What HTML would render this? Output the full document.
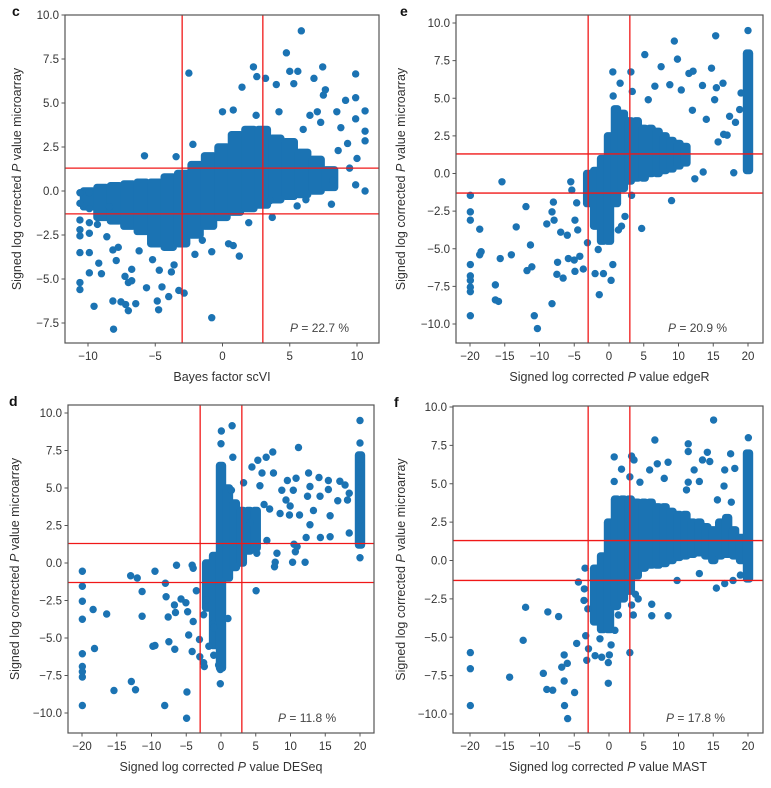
<!DOCTYPE html>
<html><head><meta charset="utf-8"><style>
html,body{margin:0;padding:0;background:#fff}
svg{display:block;font-family:"Liberation Sans",Arial,sans-serif}
</style></head><body>
<svg id="fig" width="771" height="788" viewBox="0 0 771 788" xmlns="http://www.w3.org/2000/svg"></svg>
<script>
// ---------- Panel c data (Bayes factor scVI vs microarray) ----------
const cPointsX=[5.86,4.75,-2.5,2.3,7.45,9.9,2.55,3.2,5,5.6,6.8,1.45,4,5.3,7.65,7.5,9.9,9.15,10.6,8.5,7.05,0,0.8,-5.8,-3.45,-2.2,9.9,10.6,10.6,10.6,9.9,9.45,10,5.55,8.1,3.7,-10.6,-10.6,-10.6,-10.6,-10.6,-10.6,-10.6,-10.6,-9.9,-9.9,-9.9,-9.9,-9.9,-9.9,-9.55,-9.2,-9,-8.15,-8.1,-8.15,-7.9,-7.75,-7.55,-7.2,-7,-7.25,-7,-6.75,-6.75,-6.45,-5.65,-4.85,-4.75,-4.5,-4.7,-4,-3.8,-3.25,-2.85,-2.05,-0.8,-0.8,0.45,0.8,1.25,1.95,3.55,8.8,9.3,8.2,6.5,7.3,6.2,-9.3,-8.6,-8.4,-6.2,-5.2,-3.6,-1.5,2.5,4.2,6,8.6];
const cPointsY=[9.1,7.85,6.7,7.05,7.05,6.65,6.5,6.4,6.8,6.8,6.4,5.9,6.05,6.1,5.75,5.45,5.3,5.15,4.55,4.5,4.5,4.5,4.6,2.0,1.95,2.65,4.1,2.85,3.4,0,0.35,1.3,1.85,-0.85,-0.75,-1.5,-0.1,-0.7,-1.65,-2.2,-2.55,-3.5,-5.2,-5.6,-0.1,-1,-1.8,-2.4,-3.5,-4.65,-6.55,-4.1,-4.7,-6.25,-7.85,-3.35,-3.95,-3.2,-6.3,-6.45,-6.8,-4.85,-5.2,-5.1,-4.45,-6.4,-5.5,-6.25,-6.75,-5.45,-4.5,-6,-4.6,-5.65,-5.8,-3.6,-7.2,-3.45,-3,-3.1,-3.7,-1.8,-0.55,3.6,2.7,0.6,4.3,3.9,-0.5,-1.9,-2.6,-0.9,-3.4,-3.9,-4.2,-2.8,4.3,4.5,3.5,2.3];
const cBinX=[-10,-9,-8,-7,-6,-5,-4,-3,-2,-1,0,1,2,3,4,5,6,7,8];
const cBinLo=[-0.9,-1.5,-1.7,-2,-2.3,-3,-3.2,-3,-2.5,-2,-1.5,-1.2,-1,-0.8,-0.5,-0.3,-0.2,0,0.2];
const cBinHi=[0,0.2,0.3,0.4,0.5,0.5,0.8,1,1.5,2,2.5,3.2,3.5,3.5,3,2.8,2.2,1.8,1.2];
const cXTicks=[-10,-5,0,5,10];
const cYTicks=[10,7.5,5,2.5,0,-2.5,-5,-7.5];

// ---------- Panel e data (edgeR) ----------
const ePointsX=[15.35,20,9.4,9.85,5.15,0.55,3.15,7.5,14.75,11.5,12.1,1.6,3.35,0.6,5.65,6.6,8.75,10.4,13.45,15.45,16.4,15.2,19,17.35,18.8,17,15.7,17.95,13.55,12.35,9,4.7,2.3,3.25,-15.4,-19.95,-19.95,-19.95,-18.6,-18.4,-18.6,-19.95,-19.95,-19.95,-19.95,-19.95,-19.95,-16.35,-16.35,-15.9,-15.65,-14.05,-13.35,-11.95,-11.3,-11.1,-11.8,-10.75,-10.3,-8.95,-8.2,-8,-7.9,-8.2,-7.4,-7.5,-6.6,-6.95,-6,-5.5,-5.35,-4.65,-5.85,-5,-4.9,-4.2,-3.7,-3.1,-4.9,-4.5,-1.55,-1.4,-2,-0.8,0.3,0.55,1.35,1.8,12,14,16.5,18.2];
const ePointsY=[9.15,9.5,8.8,7.6,7.9,6.75,6.75,7.1,7,6.65,6.8,6,5.45,5.15,4.9,5.8,5.9,5.55,5.85,5.7,6,4.9,5.35,3.8,4.25,2.55,2.1,0.05,0.1,-0.35,-1.8,-3.65,-2.85,-1.45,-0.55,-1.45,-2.55,-3.1,-3.7,-5.2,-5.4,-6.05,-6.8,-7.1,-7.55,-7.85,-9.45,-7.4,-8.4,-8.5,-5.65,-5.4,-3.55,-2.2,-4.75,-6.2,-6.45,-9.45,-10.3,-3.35,-2.55,-1.9,-3.1,-8.65,-5.9,-6.7,-6.95,-3.9,-4.1,-0.55,-1.1,-1.95,-5.65,-5.75,-6.5,-5.5,-6.35,-4.6,-3.1,-3.75,-5.05,-8.05,-6.65,-6.65,-7.1,-6.05,-3.75,-3.5,4.2,3.6,2.6,3.4];
const eBinX=[-3,-2,-1,0,1,2,3,4,5,6,7,8,9,10,11,20];
const eBinLo=[-2,-3.5,-4.5,-4.5,-2,-1,-0.5,-0.3,-0.3,0,0,0.2,0.3,0.5,0.7,0.2];
const eBinHi=[0,0.2,1,2.5,4.3,4,3.5,3.5,3,3,2.8,2.5,2.2,2,1.8,8];
const eXTicks=[-20,-15,-10,-5,0,5,10,15,20];
const eYTicks=[10,7.5,5,2.5,0,-2.5,-5,-7.5,-10];

// ---------- Panel d data (DESeq) ----------
const dPointsX=[20,20,0.05,1.6,0,1.7,7.45,11.15,5.3,6.5,4.45,5.9,7.55,3.25,5.6,1.5,9.55,10.8,12.6,14.1,15.45,17.1,17.85,18.45,18.2,16.8,15.45,14.25,12.8,12.45,10.4,8.75,9.35,9.95,13.3,12.8,11.3,9.85,15.7,14.3,15.7,18.45,12.25,10.5,10.95,10.7,10.3,12.1,7.8,8.05,7.7,5.15,5.05,20,20,20,20,-19.95,-19.95,-19.95,-19.95,-19.95,-19.95,-19.95,-19.95,-19.95,-18.4,-18.2,-16.45,-15.4,-12.9,-12.3,-13,-12.05,-11.35,-11.35,-9.8,-9.5,-9.5,-8,-7.9,-7.6,-8.1,-7.5,-6.65,-6.4,-6.7,-6.55,-5.75,-5.05,-4.8,-4.9,-4.95,-4.65,-4,-4.15,-4.15,-4,-3.55,-3.1,-3.05,-2.5,-2.4,-2.5,-2.1,-1.15,-1.05,-1.75,-1.05,-0.35,-0.1,-0.1,1,6.2,7,8.5,4.2,6.6,20,20,20,20];
const dPointsY=[9.5,8,8.8,9.15,7.95,7.05,7.4,7.7,6.85,7.05,6.4,6,6,5.35,5.15,4.85,5.5,5.65,6,5.7,5.5,5.45,5.2,4.65,4.2,4.15,4.9,4.45,5.1,4.45,4.85,4.85,4.2,3.8,3.5,2.55,3.2,3.2,3.15,1.7,1.75,2,1.7,1.25,1.1,0.75,0.05,0.05,0.05,0.65,-0.25,0.65,-1.85,0.35,1.65,1.3,2.85,-0.55,-1.55,-2.55,-3.75,-6.05,-6.9,-7.25,-7.6,-9.5,-3.1,-5.7,-3.4,-8.5,-7.9,-8.45,-0.85,-1,-1.9,-3.55,-5.55,-5.5,-0.55,-1.35,-2.25,-3.6,-9.5,-5.25,-5.75,-0.15,-2.8,-3.3,-2.4,-2.65,-3.25,-8.6,-10.35,-4.8,-3.9,-5.9,-0.15,-0.35,-1.85,-5.1,-6.25,-6.65,-6.9,-3.45,-2.45,-4.05,-4.3,-5.55,-6.15,-6.8,-8.05,-7.1,-3.7,3.9,3.6,3.3,2.7,1.5,4,5,6,6.5];
const dBinX=[-2,-1,0,1,2,3,4,5,20];
const dBinLo=[-3,-5.5,-7,-1,-0.3,0,0.8,1,1.2];
const dBinHi=[0,0.5,6.5,5,4,3.5,3.5,3.5,7.2];
const dXTicks=[-20,-15,-10,-5,0,5,10,15,20];
const dYTicks=[10,7.5,5,2.5,0,-2.5,-5,-7.5,-10];

// ---------- Panel f data (MAST) ----------
const fPointsX=[15.05,20.05,6.6,11.4,14.15,17.5,0.75,3.25,3.6,6.95,8.5,11.4,13.45,14.5,1.8,5.85,12.25,18.1,16.65,3,0.75,4.45,7.95,11.4,13,16.55,11.15,15.6,17.6,-19.95,-19.95,-19.95,-14.3,-12,-12.35,-8.8,-7.25,-9.45,-8.95,-8.1,-6.8,-6.45,-6.4,-5.95,-6,-6.45,-4.95,-4.65,-4.4,-3.55,-3.45,-3.6,-3.35,-3.2,-3.05,-2.95,-2,-1.3,-1.05,-0.1,-0.1,0.05,0.3,0.85,1.35,3,3.25,3.5,3.8,4.2,6.15,6.15,8.5,15.45,16.65,17.85,18.9,13,9.8];
const fPointsY=[9.15,8,7.85,7.6,7.05,6.95,6.75,6.8,6.55,6.3,6.4,7.1,6.55,6.45,5.95,5.9,5.9,6,5.9,5.45,5.15,5.1,5.35,5.1,5.15,4.85,4.6,3.95,3.8,-6,-7.05,-9.45,-7.6,-3.05,-5.2,-3.35,-3.65,-7.35,-8.4,-8.45,-6.95,-7.85,-9.45,-10.3,-6.7,-6.15,-8.6,-5.4,-1.4,-1.85,-0.5,-2.6,-4.9,-6.5,-3.15,-5.75,-6.2,-5.1,-6.3,-6.65,-8,-6.15,-5.5,-4.55,-3.55,-6,-2.9,-3.55,-2.2,-2.5,-2.85,-3.6,-3.6,-1.8,-1.5,-1.3,-0.95,-0.85,-1.3];
const fBinX=[-2,-1,0,1,2,3,4,5,6,7,8,9,10,11,12,13,14,15,16,17,18,19,20];
const fBinLo=[-4,-4.5,-4.5,-3,-2.5,-2,-1,-0.5,-0.3,-0.3,-0.2,0,0.2,0.3,0.4,0.5,0.3,0,0.3,0.4,0.3,0,-1.2];
const fBinHi=[-0.5,0.3,2.5,4,4,4,3.8,3.8,3.8,3.5,3.5,3.2,3,3,2.5,2.5,2.2,2,2.5,2.8,2,1.5,7];
const fXTicks=[-20,-15,-10,-5,0,5,10,15,20];
const fYTicks=[10,7.5,5,2.5,0,-2.5,-5,-7.5,-10];

const NS='http://www.w3.org/2000/svg';
const svg=document.getElementById('fig');
const DOT='#1b73b3';
function mk(tag,attrs,parent){const e=document.createElementNS(NS,tag);for(const k in attrs)e.setAttribute(k,attrs[k]);(parent||svg).appendChild(e);return e;}
function fmt(v,dec){return (v<0?'\u2212':'')+Math.abs(v).toFixed(dec);}

function panel(cfg){
  const g=mk('g',{});
  
  
  const sx=v=>cfg.x0px+(v-cfg.x0)*(cfg.x1px-cfg.x0px)/(cfg.x1-cfg.x0);
  const sy=v=>cfg.y0px+(v-cfg.y0)*(cfg.y1px-cfg.y0px)/(cfg.y1-cfg.y0);
  const clip='clip-'+cfg.letter;
  const cp=mk('clipPath',{id:clip},g);
  mk('rect',{x:cfg.bx0,y:cfg.by0,width:cfg.bx1-cfg.bx0,height:cfg.by1-cfg.by0},cp);
  const marks=mk('g',{'clip-path':'url(#'+clip+')'},g);
  const bw=Math.abs(sx(1)-sx(0));
  for(let i=0;i<cfg.binX.length;i++){
    const x=sx(cfg.binX[i]),ya=sy(cfg.binHi[i]),yb=sy(cfg.binLo[i]);
    const r=mk('rect',{x:x-Math.max(bw,7.4)/2-1.5,y:ya-3.7,width:Math.max(bw,7.4)+3,height:(yb-ya)+7.4,rx:3.7,fill:DOT},marks);
    
    
  }
  for(let i=0;i<cfg.px.length;i++){
    const c=mk('circle',{cx:sx(cfg.px[i]),cy:sy(cfg.py[i]),r:3.7,fill:DOT},marks);
    
    
  }
  [-3,3].forEach(v=>{const l=mk('line',{x1:sx(v),x2:sx(v),y1:cfg.by0,y2:cfg.by1,stroke:'#f01818','stroke-width':1.3},g);
    });
  [-1.3,1.3].forEach(v=>{const l=mk('line',{x1:cfg.bx0,x2:cfg.bx1,y1:sy(v),y2:sy(v),stroke:'#f01818','stroke-width':1.3},g);
    });
  const fr=mk('rect',{x:cfg.bx0,y:cfg.by0,width:cfg.bx1-cfg.bx0,height:cfg.by1-cfg.by0,fill:'none',stroke:'#555','stroke-width':1.2},g);
  
  cfg.xt.forEach(v=>{const x=sx(v);mk('line',{x1:x,x2:x,y1:cfg.by1,y2:cfg.by1+3.5,stroke:'#555','stroke-width':1},g);
    const t=mk('text',{x:x,y:cfg.by1+17,'text-anchor':'middle','font-size':11.5,fill:'#333'},g);t.textContent=fmt(v,0);
    });
  cfg.yt.forEach(v=>{const y=sy(v);mk('line',{x1:cfg.bx0-3.5,x2:cfg.bx0,y1:y,y2:y,stroke:'#555','stroke-width':1},g);
    const t=mk('text',{x:cfg.bx0-6,y:y+4,'text-anchor':'end','font-size':11.5,fill:'#333'},g);t.textContent=fmt(v,1);
    });
  const xl=mk('text',{x:(cfg.bx0+cfg.bx1)/2,y:cfg.by1+38,'text-anchor':'middle','font-size':12.5,fill:'#333'},g);
  xl.innerHTML=cfg.xlabel;
  
  const yc=(cfg.by0+cfg.by1)/2;
  const yl=mk('text',{x:cfg.ylx,y:yc,'text-anchor':'middle','font-size':12.5,fill:'#333',transform:'rotate(-90 '+cfg.ylx+' '+yc+')'},g);
  yl.innerHTML='Signed log corrected <tspan font-style="italic">P</tspan> value microarray';
  
  const an=mk('text',{x:cfg.annX,y:cfg.by1-11,'font-size':12,fill:'#444'},g);
  an.innerHTML='<tspan font-style="italic">P</tspan> = '+cfg.pct+' %';
  
  const lt=mk('text',{x:cfg.letX,y:cfg.by0+1,'font-size':14,'font-weight':'bold',fill:'#111'},g);
  lt.textContent=cfg.letter;
  
}

panel({letter:'c',px:cPointsX,py:cPointsY,binX:cBinX,binLo:cBinLo,binHi:cBinHi,xt:cXTicks,yt:cYTicks,
  x0:-10,x1:10,x0px:88,x1px:357,y0:10,y1:-7.5,y0px:15,y1px:323,bx0:65,bx1:379,by0:15,by1:343,
  xlabel:'Bayes factor scVI',ylx:21,annX:290,pct:'22.7',letX:12});
panel({letter:'e',px:ePointsX,py:ePointsY,binX:eBinX,binLo:eBinLo,binHi:eBinHi,xt:eXTicks,yt:eYTicks,
  x0:-20,x1:20,x0px:470,x1px:748,y0:10,y1:-10,y0px:23,y1px:324,bx0:456,bx1:763,by0:15,by1:343,
  xlabel:'Signed log corrected <tspan font-style="italic">P</tspan> value edgeR',ylx:405,annX:668,pct:'20.9',letX:400});
panel({letter:'d',px:dPointsX,py:dPointsY,binX:dBinX,binLo:dBinLo,binHi:dBinHi,xt:dXTicks,yt:dYTicks,
  x0:-20,x1:20,x0px:82,x1px:360,y0:10,y1:-10,y0px:413,y1px:713,bx0:68,bx1:374,by0:405,by1:733,
  xlabel:'Signed log corrected <tspan font-style="italic">P</tspan> value DESeq',ylx:19,annX:278,pct:'11.8',letX:9});
panel({letter:'f',px:fPointsX,py:fPointsY,binX:fBinX,binLo:fBinLo,binHi:fBinHi,xt:fXTicks,yt:fYTicks,
  x0:-20,x1:20,x0px:470,x1px:748,y0:10,y1:-10,y0px:407,y1px:714,bx0:453,bx1:763,by0:406,by1:733,
  xlabel:'Signed log corrected <tspan font-style="italic">P</tspan> value MAST',ylx:405,annX:666,pct:'17.8',letX:394});
</script>
</body></html>
